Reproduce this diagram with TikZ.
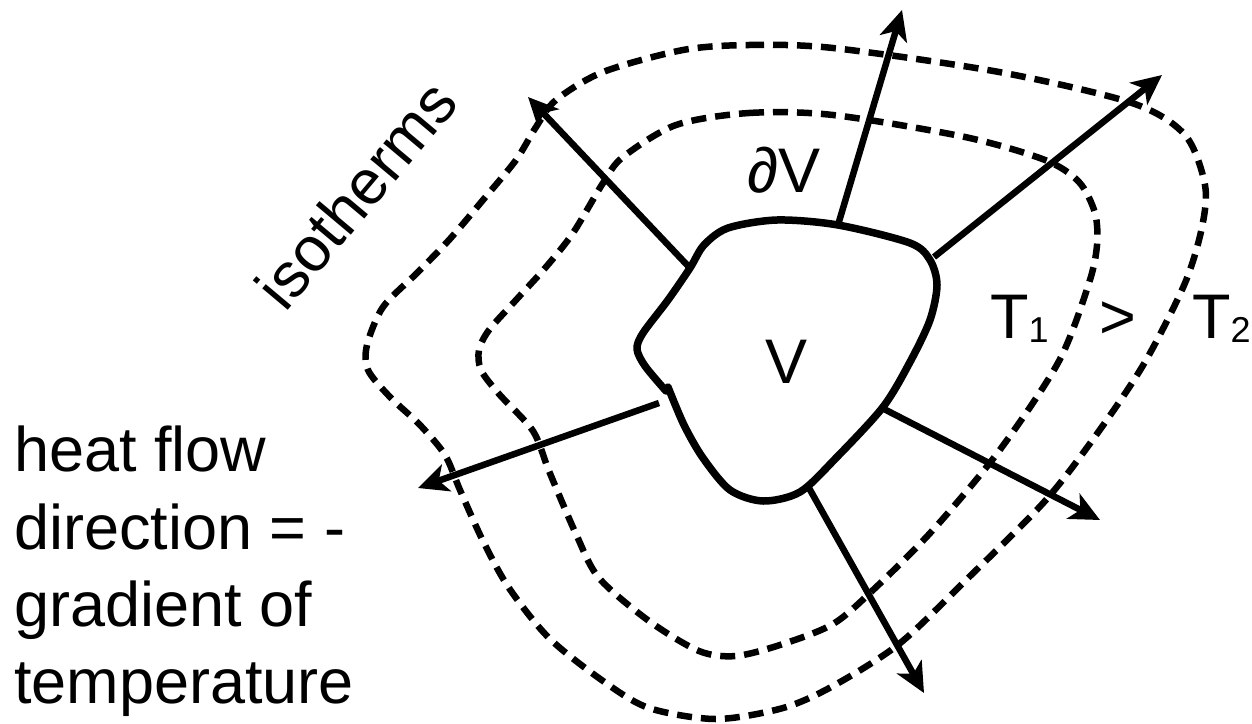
\documentclass[tikz,border=0pt]{standalone}
\usepackage{fontspec}
\setmainfont{Liberation Sans}
\usetikzlibrary{arrows.meta}
\begin{document}
\begin{tikzpicture}[x=1pt,y=-1pt,
  iso/.style={line width=6.5pt, dash pattern=on 15pt off 9pt},
  bound/.style={line width=7.5pt, line join=round, line cap=round},
  flow/.style={line width=6.5pt, -{Stealth[length=30pt,width=28pt,inset=8pt]}},
  lbl/.style={inner sep=0pt, font=\fontsize{63}{77}\selectfont}]
\useasboundingbox (0,0) rectangle (1252,723);

% isotherms (outer and inner)
\draw[iso] plot[smooth cycle] coordinates {
  (683,50) (749,45) (833,48) (999,72) (1132,103) (1185,135) (1205,185)
  (1202,227) (1185,283) (1145,362) (1099,431) (1045,501) (965,581)
  (899,644) (833,686) (783,708) (716,719) (649,708) (603,681) (549,638)
  (509,588) (483,541) (460,490) (445,455) (420,425) (390,397) (368,370)
  (367,345) (383,307) (417,273) (449,240) (483,200) (516,160) (536,127)
  (556,100) (603,72)};
\draw[iso] plot[smooth cycle] coordinates {
  (676,125) (749,113) (833,115) (965,137) (1045,160) (1079,182) (1095,213)
  (1097,245) (1089,283) (1059,361) (999,451) (932,531) (872,591) (833,624)
  (783,644) (736,656) (699,651) (649,621) (599,578) (576,534) (549,471)
  (533,431) (499,394) (481,370) (479,350) (489,330) (516,300) (546,267)
  (573,233) (603,183) (623,157)};

% region boundary
\draw[bound] plot[smooth] coordinates {
  (666,391) (645,366) (637,349) (643,333) (668,300) (690,268) (704,245)
  (728,228) (777,220) (838,225) (910,243) (930,260) (937,285) (930,320)
  (910,362) (883,407) (836,458) (800,492) (763,501) (730,490) (703,458)
  (684,425) (668,387)};

% attachment points and tips
\coordinate (s1) at (689,267); \coordinate (e1) at (528,97);
\coordinate (s2) at (838,225); \coordinate (e2) at (902,10);
\coordinate (s3) at (934,257); \coordinate (e3) at (1162,75);
\coordinate (s4) at (659,403); \coordinate (e4) at (418,488);
\coordinate (s5) at (882,408); \coordinate (e5) at (1100,520);
\coordinate (s6) at (809,488); \coordinate (e6) at (924,693);

\draw[flow] (s1) -- (e1);
\draw[flow] (s2) -- (e2);
\draw[flow] (s3) -- (e3);
\draw[flow] (s4) -- (e4);
\draw[flow] (s5) -- (e5);
\draw[flow] (s6) -- (e6);

% labels
\node[lbl, anchor=base] (V) at (786,383) {V};
\node[lbl, anchor=base] (dV) at (784,192) {∂V};
\node[lbl, anchor=base west] (t1) at (990,338) {T\raisebox{-4pt}{\fontsize{36}{36}\selectfont 1}};
\node[lbl, anchor=base] (gt) at (1118,338) {>};
\node[lbl, anchor=base west] (t2) at (1192,338) {T\raisebox{-4pt}{\fontsize{36}{36}\selectfont 2}};
\node[lbl, rotate=50, anchor=base] (isoname) at (373,209) {isotherms};

\node[lbl, anchor=base west] (h1) at (14,471) {heat flow};
\node[lbl, anchor=base west] (h2) at (14,549) {direction = -};
\node[lbl, anchor=base west] (h3) at (14,626) {gradient of};
\node[lbl, anchor=base west] (h4) at (14,703) {temperature};
\end{tikzpicture}
\end{document}
